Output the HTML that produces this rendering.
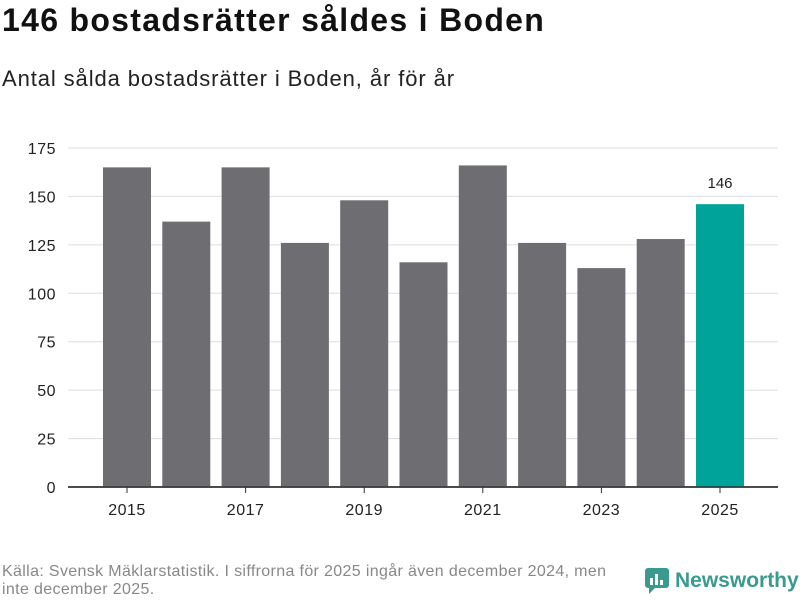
<!DOCTYPE html>
<html><head><meta charset="utf-8"><style>
body{margin:0;width:800px;height:600px;background:#fff;font-family:"Liberation Sans","DejaVu Sans",sans-serif;overflow:hidden;position:relative}
#title{position:absolute;left:2px;top:2px;font-size:32px;font-weight:bold;color:#111;letter-spacing:1.3px}
#sub{position:absolute;left:2px;top:66px;font-size:22px;color:#222;letter-spacing:0.9px}
#foot{position:absolute;left:2px;top:563px;font-size:16px;color:#888;width:720px;white-space:nowrap;line-height:18px;letter-spacing:0.35px}
#logo{position:absolute;left:645px;top:568px;font-size:21px;font-weight:bold;color:#3a9a8f;display:flex;align-items:center;gap:6px}
svg{position:absolute;left:0;top:0}
</style></head><body>
<div id="title">146 bostadsrätter såldes i Boden</div>
<div id="sub">Antal sålda bostadsrätter i Boden, år för år</div>
<svg id="chart" width="800" height="600"></svg>
<div id="foot">Källa: Svensk Mäklarstatistik. I siffrorna för 2025 ingår även december 2024, men<br>inte december 2025.</div>
<div id="logo"><svg width="24" height="26" style="position:static"><rect x="0" y="0" width="24" height="20" rx="3" fill="#3a9a8f"/><polygon points="4,20 10,20 4,26" fill="#3a9a8f"/><rect x="5" y="10" width="3" height="7" fill="#fff"/><rect x="10" y="6" width="3" height="11" fill="#fff"/><rect x="15" y="12" width="3" height="5" fill="#fff"/></svg>Newsworthy</div>
<script>
const years=[2015,2016,2017,2018,2019,2020,2021,2022,2023,2024,2025];
const values=[165,137,165,126,148,116,166,126,113,128,146];
const yTicks=[0,25,50,75,100,125,150,175];
const xLabels=[2015,2017,2019,2021,2023,2025];
const svg=document.getElementById('chart');const NS='http://www.w3.org/2000/svg';
const y0=487,y1=148,vmax=175;
const y=v=>y0-(v/vmax)*(y0-y1);
const x=yr=>127+(yr-2015)*59.3;
function mk(t,a,txt){const e=document.createElementNS(NS,t);for(const k in a)e.setAttribute(k,a[k]);if(txt!=null)e.textContent=txt;svg.appendChild(e);return e;}
yTicks.forEach(t=>{
 const g=mk('line',{x1:68,x2:778,y1:y(t),y2:y(t),stroke:t===0?'#333':'#ddd','stroke-width':t===0?1.5:1});
 
 
 const l=mk('text',{x:56,y:y(t)+6,'text-anchor':'end','font-size':16,fill:'#222','letter-spacing':0.5},t);
 
 
});
years.forEach((yr,i)=>{
 const v=values[i];const last=i===years.length-1;
 const b=mk('rect',{x:x(yr)-24,y:y(v),width:48,height:y0-y(v),fill:last?'#00a39a':'#6e6d72'});
 
 
 if(last){const t=mk('text',{x:x(yr),y:y(v)-16,'text-anchor':'middle','font-size':15,fill:'#222'},v);
 
 }
});
mk('line',{x1:68,x2:778,y1:y0,y2:y0,stroke:'#333','stroke-width':1.5});
xLabels.forEach(yr=>{
 const k=mk('line',{x1:x(yr),x2:x(yr),y1:y0,y2:y0+6,stroke:'#333'});
 
 
 const t=mk('text',{x:x(yr),y:515,'text-anchor':'middle','font-size':16,fill:'#222','letter-spacing':0.5},yr);
 
 
});
</script>
</body></html>
